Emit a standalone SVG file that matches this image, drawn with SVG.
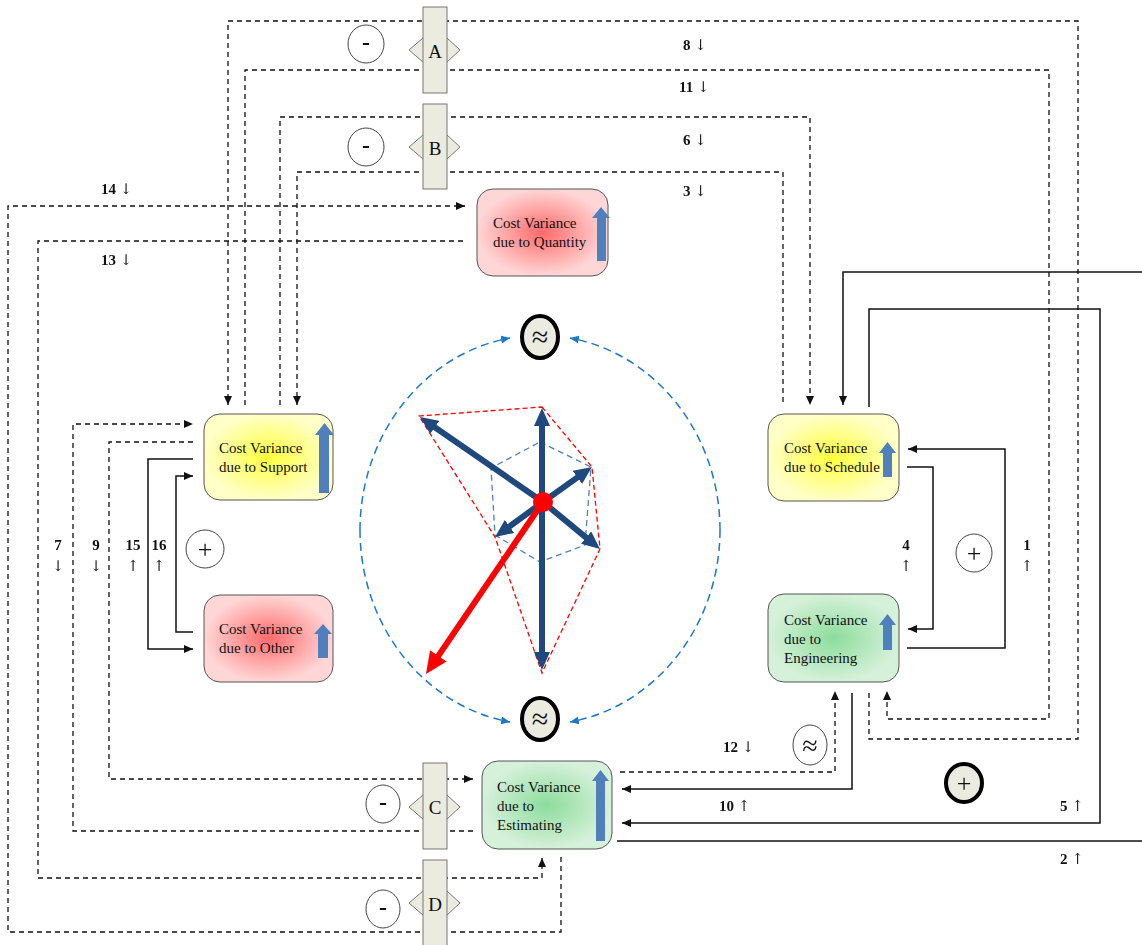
<svg xmlns="http://www.w3.org/2000/svg" width="1142" height="945" viewBox="0 0 1142 945">
<style>
.dash{fill:none;stroke:#111;stroke-width:1.3;stroke-dasharray:5 4}
.solid{fill:none;stroke:#111;stroke-width:1.5}
.box{stroke:#555;stroke-width:1}
.bt{font-family:"Liberation Serif",serif;font-size:15px;fill:#111}
.num{font-family:"Liberation Serif",serif;font-size:15px;font-weight:bold;fill:#111}
.a{font-family:"DejaVu Serif","DejaVu Sans",serif;font-weight:normal;font-size:15px;fill:#222}
.vc{text-anchor:middle}
.upa{fill:#4f7fbd}
.valve rect,.valve polygon{fill:#ecebe0;stroke:#777;stroke-width:1}
.vl{font-family:"Liberation Serif",serif;font-size:19px;fill:#111;text-anchor:middle}
.sym{font-family:"Liberation Serif",serif;fill:#111;text-anchor:middle}
.thin{fill:#fff;stroke:#444;stroke-width:1}
.bold{fill:#ecebe0;stroke:#000;stroke-width:4}
.nv{stroke:#1f497d;stroke-width:6;fill:none}
.bl{fill:none;stroke:#1f77c8;stroke-width:1.5;stroke-dasharray:8 5}
</style>
<defs>
<filter id="gs" x="0" y="0" width="1142" height="945" filterUnits="userSpaceOnUse"><feOffset dx="0" dy="0"/></filter>
<marker id="ah" markerUnits="userSpaceOnUse" markerWidth="9" markerHeight="8" refX="9" refY="4" orient="auto"><path d="M0,0 L9,4 L0,8 z" fill="#111"/></marker>
<marker id="nav" markerUnits="userSpaceOnUse" markerWidth="18" markerHeight="16" refX="4" refY="8" orient="auto-start-reverse"><path d="M0,0 L18,8 L0,16 z" fill="#1f497d"/></marker>
<marker id="red" markerUnits="userSpaceOnUse" markerWidth="22" markerHeight="20" refX="4" refY="10" orient="auto"><path d="M0,0 L22,10 L0,20 z" fill="#ff0000"/></marker>
<marker id="ba" markerUnits="userSpaceOnUse" markerWidth="9" markerHeight="8" refX="9" refY="4" orient="auto"><path d="M0,0 L9,4 L0,8 z" fill="#1f77c8"/></marker>
<radialGradient id="gy"><stop offset="0" stop-color="#ffff3c"/><stop offset="1" stop-color="#ffffc8"/></radialGradient>
<radialGradient id="gr"><stop offset="0" stop-color="#ff6a6a"/><stop offset="1" stop-color="#ffd6d6"/></radialGradient>
<radialGradient id="gg"><stop offset="0" stop-color="#8ddc9c"/><stop offset="1" stop-color="#d6f1da"/></radialGradient>
</defs>

<g id="connectors">
<path class="dash" d="M869,693 V739 H1078 V21 H228 V405" marker-end="url(#ah)"/>
<path class="dash" d="M245,405 V70 H1049 V719 H887 V691" marker-end="url(#ah)"/>
<path class="dash" d="M280,405 V117 H810 V405" marker-end="url(#ah)"/>
<path class="dash" d="M783,402 V172 H297 V405" marker-end="url(#ah)"/>
<path class="dash" d="M561,857 V932 H8 V206 H465" marker-end="url(#ah)"/>
<path class="dash" d="M463,241 H38 V878 H542 V858" marker-end="url(#ah)"/>
<path class="dash" d="M473,831 H73 V424 H193" marker-end="url(#ah)"/>
<path class="dash" d="M193,442 H109 V779 H473" marker-end="url(#ah)"/>
<path class="dash" d="M620,772 H835 V691" marker-end="url(#ah)"/>
<path class="solid" d="M193,459 H148 V649 H193" marker-end="url(#ah)"/>
<path class="solid" d="M193,632 H176 V476 H193" marker-end="url(#ah)"/>
<path class="solid" d="M907,467 H933 V629 H908" marker-end="url(#ah)"/>
<path class="solid" d="M907,648 H1005 V449 H908" marker-end="url(#ah)"/>
<path class="solid" d="M852,693 V789 H622" marker-end="url(#ah)"/>
<path class="solid" d="M869,407 V309 H1100 V823 H622" marker-end="url(#ah)"/>
<path class="solid" d="M617,841 H1142"/>
<path class="solid" d="M1142,272 H843 V405" marker-end="url(#ah)"/>
</g>

<g id="labels" filter="url(#gs)">
<text class="num" x="683" y="50">8 <tspan class="a">↓</tspan></text>
<text class="num" x="679" y="92">11 <tspan class="a">↓</tspan></text>
<text class="num" x="683" y="145">6 <tspan class="a">↓</tspan></text>
<text class="num" x="683" y="196">3 <tspan class="a">↓</tspan></text>
<text class="num" x="101" y="194">14 <tspan class="a">↓</tspan></text>
<text class="num" x="101" y="265">13 <tspan class="a">↓</tspan></text>
<text class="num" x="723" y="752">12 <tspan class="a">↓</tspan></text>
<text class="num" x="719" y="811">10 <tspan class="a">↑</tspan></text>
<text class="num" x="1060" y="811">5 <tspan class="a">↑</tspan></text>
<text class="num" x="1060" y="864">2 <tspan class="a">↑</tspan></text>
<text class="num vc" x="58" y="550">7</text><text class="a vc" x="58" y="571">↓</text>
<text class="num vc" x="96" y="550">9</text><text class="a vc" x="96" y="571">↓</text>
<text class="num vc" x="133" y="550">15</text><text class="a vc" x="133" y="571">↑</text>
<text class="num vc" x="159" y="550">16</text><text class="a vc" x="159" y="571">↑</text>
<text class="num vc" x="906" y="550">4</text><text class="a vc" x="906" y="571">↑</text>
<text class="num vc" x="1027" y="550">1</text><text class="a vc" x="1027" y="571">↑</text>
</g>

<g id="valve-A" class="valve"><polygon points="409,50 423,38 447,38 460,50 447,62 423,62"/><rect x="423" y="7" width="24" height="86"/><text class="vl" x="435" y="58">A</text></g>
<g id="valve-B" class="valve"><polygon points="409,147 423,135 447,135 460,147 447,159 423,159"/><rect x="423" y="104" width="24" height="85"/><text class="vl" x="435" y="155">B</text></g>
<g id="valve-C" class="valve"><polygon points="409,807 423,795 447,795 460,807 447,819 423,819"/><rect x="423" y="763" width="24" height="86"/><text class="vl" x="435" y="814">C</text></g>
<g id="valve-D" class="valve"><polygon points="409,903 423,891 447,891 460,903 447,915 423,915"/><rect x="423" y="860" width="24" height="90"/><text class="vl" x="435" y="911">D</text></g>

<g id="minus-A" filter="url(#gs)"><ellipse class="thin" cx="366" cy="44" rx="18" ry="19"/><text class="sym" x="366" y="50" font-size="24" font-weight="bold">-</text></g>
<g id="minus-B" filter="url(#gs)"><ellipse class="thin" cx="366" cy="147" rx="18" ry="19"/><text class="sym" x="366" y="153" font-size="24" font-weight="bold">-</text></g>
<g id="minus-C" filter="url(#gs)"><ellipse class="thin" cx="383" cy="804" rx="17" ry="19"/><text class="sym" x="383" y="810" font-size="24" font-weight="bold">-</text></g>
<g id="minus-D" filter="url(#gs)"><ellipse class="thin" cx="383" cy="909" rx="17" ry="19"/><text class="sym" x="383" y="915" font-size="24" font-weight="bold">-</text></g>

<g id="plus-left" filter="url(#gs)"><ellipse class="thin" cx="205" cy="549" rx="19" ry="19"/><text class="sym" x="205" y="558" font-size="26">+</text></g>
<g id="plus-right" filter="url(#gs)"><ellipse class="thin" cx="974" cy="553" rx="18" ry="19"/><text class="sym" x="974" y="562" font-size="26">+</text></g>
<g id="plus-bold" filter="url(#gs)"><ellipse class="bold" cx="964" cy="783" rx="18" ry="19"/><text class="sym" x="964" y="792" font-size="26">+</text></g>
<g id="approx-small" filter="url(#gs)"><ellipse class="thin" cx="810" cy="745" rx="17" ry="20"/><text class="sym" x="810" y="755" font-size="28">≈</text></g>

<g id="radar">
<path class="bl" d="M360,530 A180,195 0 0,1 510,338" marker-end="url(#ba)"/>
<path class="bl" d="M720,530 A180,195 0 0,0 570,338" marker-end="url(#ba)"/>
<path class="bl" d="M360,530 A180,195 0 0,0 510,722" marker-end="url(#ba)"/>
<path class="bl" d="M720,530 A180,195 0 0,1 570,722" marker-end="url(#ba)"/>
<polygon points="540,442 591,467 585,545 540,562 495,535 491,468" fill="none" stroke="#4f81bd" stroke-width="1.3" stroke-dasharray="6 4"/>
<polygon points="542,407 592,467 600,549 542,673 495,537 419,416" fill="none" stroke="#ff0000" stroke-width="1.3" stroke-dasharray="5 3"/>
<line class="nv" x1="542" y1="422" x2="542" y2="656" marker-start="url(#nav)" marker-end="url(#nav)"/>
<line class="nv" x1="543" y1="502" x2="431.5" y2="425" marker-end="url(#nav)"/>
<line class="nv" x1="543" y1="502" x2="580.6" y2="475.1" marker-end="url(#nav)"/>
<line class="nv" x1="543" y1="502" x2="589.2" y2="540.1" marker-end="url(#nav)"/>
<line class="nv" x1="543" y1="502" x2="506.3" y2="528.8" marker-end="url(#nav)"/>
<line x1="543" y1="502" x2="436.1" y2="659.1" stroke="#ff0000" stroke-width="6" marker-end="url(#red)"/>
<circle cx="543" cy="502" r="10" fill="#ff0000"/>
</g>
<g id="approx-top"><ellipse class="bold" cx="540" cy="337" rx="18" ry="21"/><text class="sym" x="540" y="347" font-size="30">≈</text></g>
<g id="approx-bottom"><ellipse class="bold" cx="540" cy="719" rx="18" ry="21"/><text class="sym" x="540" y="729" font-size="30">≈</text></g>

<g id="node-support"><rect class="box" x="204" y="414" width="129" height="86" rx="16" fill="url(#gy)"/><text class="bt" x="219" y="453">Cost Variance</text><text class="bt" x="219" y="472">due to Support</text><polygon class="upa" points="324.5,423 334,435 329,435 329,493 319,493 319,435 315,435"/></g>
<g id="node-other"><rect class="box" x="204" y="595" width="129" height="87" rx="16" fill="url(#gr)"/><text class="bt" x="219" y="634">Cost Variance</text><text class="bt" x="219" y="653">due to Other</text><polygon class="upa" points="323,624 332,634 328,634 328,658 318,658 318,634 314,634"/></g>
<g id="node-quantity"><rect class="box" x="477" y="189" width="131" height="87" rx="16" fill="url(#gr)"/><text class="bt" x="493" y="228">Cost Variance</text><text class="bt" x="493" y="247">due to Quantity</text><polygon class="upa" points="601,207 610,218 606,218 606,261 597,261 597,218 592,218"/></g>
<g id="node-schedule"><rect class="box" x="768" y="414" width="131" height="87" rx="16" fill="url(#gy)"/><text class="bt" x="784" y="453">Cost Variance</text><text class="bt" x="784" y="472">due to Schedule</text><polygon class="upa" points="887.5,442 896,453 892,453 892,477 883,477 883,453 879,453"/></g>
<g id="node-engineering"><rect class="box" x="768" y="594" width="131" height="88" rx="16" fill="url(#gg)"/><text class="bt" x="784" y="625">Cost Variance</text><text class="bt" x="784" y="644">due to</text><text class="bt" x="784" y="663">Engineering</text><polygon class="upa" points="887.5,614 896,625 892,625 892,650 883,650 883,625 879,625"/></g>
<g id="node-estimating"><rect class="box" x="482" y="761" width="130" height="88" rx="16" fill="url(#gg)"/><text class="bt" x="497" y="792">Cost Variance</text><text class="bt" x="497" y="811">due to</text><text class="bt" x="497" y="830">Estimating</text><polygon class="upa" points="600.5,770 609,781 605,781 605,841 596,841 596,781 592,781"/></g>
</svg>
